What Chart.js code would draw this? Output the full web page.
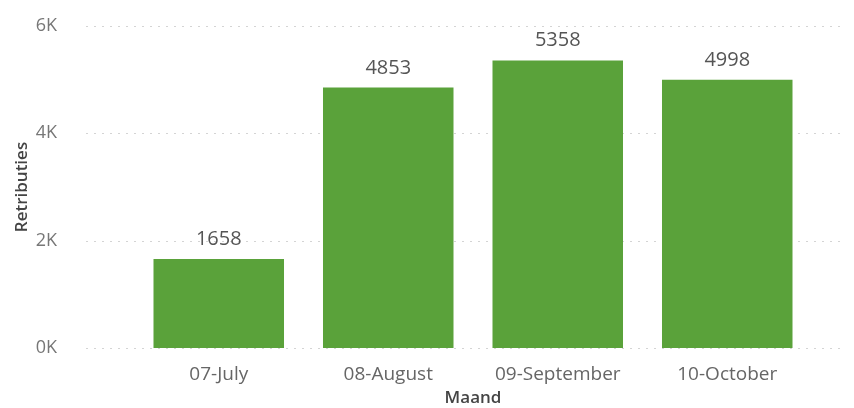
<!DOCTYPE html>
<html>
<head>
<meta charset="utf-8">
<script src="https://cdn.jsdelivr.net/npm/chart.js@4"></script>
<style>
  html, body { margin: 0; padding: 0; background: #fff; }
  #wrap { width: 854px; height: 408px; }
</style>
</head>
<body>
<div id="wrap"><canvas id="chart" width="854" height="408"></canvas></div>
<script>
const months = ['07-July', '08-August', '09-September', '10-October'];
const retributies = [1658, 4853, 5358, 4998];
const yTicks = [0, 2000, 4000, 6000];

const font = "'Open Sans', 'DejaVu Sans', sans-serif";

// dotted gridlines that run wider than the bars (like the original)
const dottedGrid = {
  id: 'dottedGrid',
  beforeDatasetsDraw(chart) {
    const y = chart.scales.y, ctx = chart.ctx;
    ctx.save();
    ctx.strokeStyle = '#d4d4d4';
    ctx.lineWidth = 1;
    ctx.setLineDash([2, 6]);
    yTicks.forEach(v => {
      const py = Math.round(y.getPixelForValue(v)) + 0.5;
      ctx.beginPath(); ctx.moveTo(86, py); ctx.lineTo(846, py); ctx.stroke();
    });
    ctx.restore();
  }
};

const valueLabels = {
  id: 'valueLabels',
  afterDatasetsDraw(chart) {
    const ctx = chart.ctx;
    ctx.save();
    ctx.fillStyle = '#555';
    ctx.font = '20px ' + font;
    ctx.textAlign = 'center';
    ctx.textBaseline = 'alphabetic';
    chart.getDatasetMeta(0).data.forEach((bar, i) => {
      ctx.fillText(String(retributies[i]), bar.x, bar.y - 14);
    });
    ctx.restore();
  }
};

new Chart(document.getElementById('chart'), {
  type: 'bar',
  data: {
    labels: months,
    datasets: [{
      data: retributies,
      backgroundColor: '#5aa23a',
      categoryPercentage: 1,
      barPercentage: 0.77
    }]
  },
  options: {
    responsive: false,
    animation: false,
    layout: { padding: { top: 26, right: 42, left: 0, bottom: 0 } },
    plugins: { legend: { display: false }, tooltip: { enabled: false } },
    scales: {
      x: {
        grid: { display: false },
        border: { display: false },
        ticks: { color: '#666', font: { family: font, size: 19 }, padding: 7 },
        title: { display: true, text: 'Maand', color: '#444', font: { family: font, size: 17, weight: '600' }, padding: { top: 0, bottom: 0 } },
        afterFit(s) { s.height = 60; }
      },
      y: {
        min: 0, max: 6000,
        grid: { display: false },
        border: { display: false },
        afterBuildTicks(s) { s.ticks = yTicks.map(v => ({ value: v })); },
        ticks: {
          color: '#777',
          font: { family: font, size: 18 },
          padding: 69,
          callback: v => (v / 1000) + 'K'
        },
        title: { display: true, text: 'Retributies', color: '#444', font: { family: font, size: 17, weight: '600' }, padding: { top: 12, bottom: 0 } },
        afterFit(s) { s.width = 134; s.paddingTop = 0; s.paddingBottom = 0; }
      }
    }
  },
  plugins: [dottedGrid, valueLabels]
});
</script>
</body>
</html>
